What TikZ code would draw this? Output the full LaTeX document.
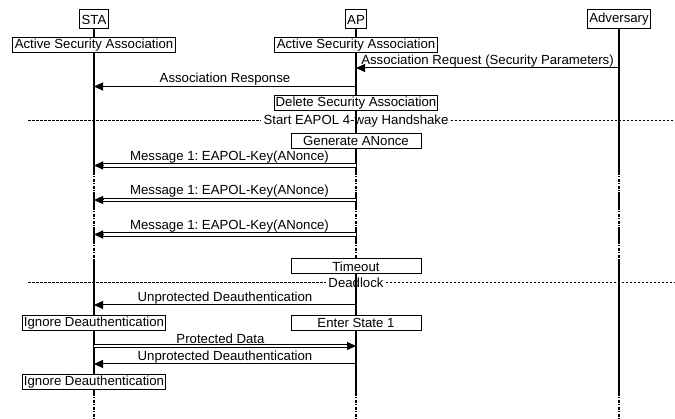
\documentclass[tikz,border=0pt]{standalone}
\usepackage{fontspec}
\setmainfont{Liberation Sans}
\usetikzlibrary{arrows.meta,calc}
\frenchspacing

\begin{document}
\begin{tikzpicture}[x=1pt,y=-1pt,font=\fontsize{13.2}{15}\selectfont,
  entity/.style={draw,line width=1pt,fill=white,inner xsep=1.8pt,inner ysep=0pt,minimum height=19pt},
  stbox/.style={draw,line width=1pt,fill=white,inner sep=0pt,minimum height=15pt},
  life/.style={line width=1.1pt},
  gap/.style={line width=1.1pt,dash pattern=on 3pt off 1.5pt on 1pt off 1.5pt},
  tip/.style={-{Triangle[length=9pt,width=8pt]}},
  msg/.style={line width=1pt,tip},
  dbl/.style={line width=0.9pt,double,double distance=2.6pt},
  sep/.style={line width=1pt,dash pattern=on 2.5pt off 1.5pt},
  lbl/.style={anchor=south,inner sep=0.6pt},
  seplbl/.style={inner sep=2pt}]

\useasboundingbox (0,0) rectangle (675,419);

% entities
\node[entity] (sta) at (94,19.5)  {STA};
\node[entity] (ap)  at (356,19.5) {AP};
\node[entity] (adv) at (619,19.5) {Adversary};

% lifelines, with the gaps shown as broken segments
\foreach \n/\x in {sta/94,ap/356,adv/619}{
  \coordinate (\n-d1) at (\x,172);
  \coordinate (\n-s1) at (\x,192);
  \coordinate (\n-d2) at (\x,207);
  \coordinate (\n-s2) at (\x,227);
  \coordinate (\n-d3) at (\x,241);
  \coordinate (\n-s3) at (\x,259);
  \coordinate (\n-d4) at (\x,393);
  \coordinate (\n-end) at (\x,419);
  \draw[life] (\n.south) -- (\n-d1) (\n-s1) -- (\n-d2) (\n-s2) -- (\n-d3) (\n-s3) -- (\n-d4);
  \draw[gap] (\n-d1) -- (\n-s1) (\n-d2) -- (\n-s2) (\n-d3) -- (\n-s3) (\n-d4) -- (\n-end);
}

% message end points on the lifelines
\foreach \n/\x in {sta/94,ap/356,adv/619}{
  \coordinate (\n-r1) at (\x,68);
  \coordinate (\n-r2) at (\x,86.5);
  \coordinate (\n-m1) at (\x,165.5);
  \coordinate (\n-m2) at (\x,200);
  \coordinate (\n-m3) at (\x,234.5);
  \coordinate (\n-u1) at (\x,305);
  \coordinate (\n-pd) at (\x,346);
  \coordinate (\n-u2) at (\x,364);
}
\coordinate (sta-m1t) at (103,165.5);
\coordinate (sta-m2t) at (103,200);
\coordinate (sta-m3t) at (103,234.5);
\coordinate (ap-pdt)  at (347,346);

% state boxes
\node[stbox,minimum width=163pt] (sta-asa) at (94,45.5)  {Active Security Association};
\node[stbox,minimum width=163pt] (ap-asa)  at (356,45.5) {Active Security Association};
\node[stbox,minimum width=163pt] (ap-del)  at (356,103.5) {Delete Security Association};
\node[stbox,minimum width=130pt] (ap-gen)  at (356,141) {Generate ANonce};
\node[stbox,minimum width=130pt] (ap-to)   at (356,266.5) {Timeout};
\node[stbox,minimum width=143pt] (sta-ign1) at (94,323) {Ignore Deauthentication};
\node[stbox,minimum width=130pt] (ap-es1)  at (356,323) {Enter State 1};
\node[stbox,minimum width=143pt] (sta-ign2) at (94,382) {Ignore Deauthentication};

% messages
\draw[msg] (adv-r1) -- node[lbl]{Association Request (Security Parameters)} (ap-r1);
\draw[msg] (ap-r2) -- node[lbl]{Association Response} (sta-r2);

\draw[dbl] (ap-m1) -- node[lbl,yshift=1.6pt]{Message 1: EAPOL-Key(ANonce)} (sta-m1t);
\draw[msg] (sta-m1t) -- (sta-m1);
\draw[dbl] (ap-m2) -- node[lbl,yshift=1.6pt]{Message 1: EAPOL-Key(ANonce)} (sta-m2t);
\draw[msg] (sta-m2t) -- (sta-m2);
\draw[dbl] (ap-m3) -- node[lbl,yshift=1.6pt]{Message 1: EAPOL-Key(ANonce)} (sta-m3t);
\draw[msg] (sta-m3t) -- (sta-m3);

\draw[msg] (ap-u1) -- node[lbl]{Unprotected Deauthentication} (sta-u1);
\draw[dbl] (sta-pd) -- node[lbl,yshift=1.6pt]{Protected Data} (ap-pdt);
\draw[msg] (ap-pdt) -- (ap-pd);
\draw[msg] (ap-u2) -- node[lbl]{Unprotected Deauthentication} (sta-u2);

% separators
\node[seplbl] (sep1) at (356,121) {Start EAPOL 4-way Handshake};
\coordinate (sep1-l) at (28,121);
\coordinate (sep1-r) at (675,121);
\draw[sep] (sep1-l) -- (sep1.west) (sep1.east) -- (sep1-r);

\node[seplbl] (sep2) at (356,283) {Deadlock};
\coordinate (sep2-l) at (28,283);
\coordinate (sep2-r) at (675,283);
\draw[sep] (sep2-l) -- (sep2.west) (sep2.east) -- (sep2-r);

\end{tikzpicture}
\end{document}
